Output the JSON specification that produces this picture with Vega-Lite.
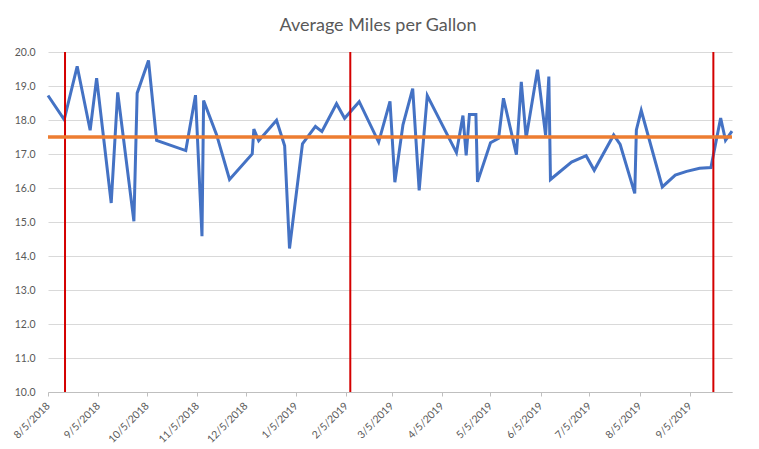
{
  "$schema": "https://vega.github.io/schema/vega-lite/v6.json",
  "width": 684,
  "height": 340,
  "autosize": {"type": "none"},
  "padding": {"left": 48, "top": 52, "right": 27, "bottom": 57},
  "background": "white",
  "config": {
    "view": {"stroke": null},
    "font": "Lato",
    "axisX": {"title": null, "format": "%-m/%-d/%Y", "labelAngle": -45, "labelAlign": "right", "labelBaseline": "middle", "labelPadding": 8, "labelFontSize": 10.5, "labelColor": "#595959", "labelOverlap": false, "labelFlush": false, "grid": false, "domainColor": "#BFBFBF", "tickColor": "#BFBFBF", "tickSize": 4},
    "axisY": {"title": null, "format": ".1f", "domain": false, "ticks": false, "gridColor": "#D9D9D9", "labelColor": "#595959", "labelFontSize": 10.5, "labelPadding": 13, "labelOverlap": false, "labelFlush": false}
  },
  "title": {"text": "Average Miles per Gallon", "font": "Lato", "fontSize": 18, "fontWeight": "normal", "color": "#595959", "anchor": "middle", "dx": -12, "offset": 12},
  "layer": [
    {
      "data": {"values": [
        {"date": "2018-08-05", "mpg": 18.72},
        {"date": "2018-08-15", "mpg": 18.01},
        {"date": "2018-08-23", "mpg": 19.58},
        {"date": "2018-08-31", "mpg": 17.70},
        {"date": "2018-09-04", "mpg": 19.23},
        {"date": "2018-09-13", "mpg": 15.56},
        {"date": "2018-09-17", "mpg": 18.81},
        {"date": "2018-09-27", "mpg": 15.02},
        {"date": "2018-09-29", "mpg": 18.79},
        {"date": "2018-10-06", "mpg": 19.75},
        {"date": "2018-10-11", "mpg": 17.40},
        {"date": "2018-10-29", "mpg": 17.10},
        {"date": "2018-11-04", "mpg": 18.73},
        {"date": "2018-11-08", "mpg": 14.58},
        {"date": "2018-11-09", "mpg": 18.57},
        {"date": "2018-11-17", "mpg": 17.57},
        {"date": "2018-11-25", "mpg": 16.25},
        {"date": "2018-12-09", "mpg": 17.00},
        {"date": "2018-12-10", "mpg": 17.73},
        {"date": "2018-12-13", "mpg": 17.39},
        {"date": "2018-12-24", "mpg": 17.99},
        {"date": "2018-12-29", "mpg": 17.24},
        {"date": "2019-01-01", "mpg": 14.22},
        {"date": "2019-01-09", "mpg": 17.30},
        {"date": "2019-01-17", "mpg": 17.81},
        {"date": "2019-01-21", "mpg": 17.66},
        {"date": "2019-01-30", "mpg": 18.48},
        {"date": "2019-02-04", "mpg": 18.05},
        {"date": "2019-02-13", "mpg": 18.54},
        {"date": "2019-02-25", "mpg": 17.35},
        {"date": "2019-03-04", "mpg": 18.55},
        {"date": "2019-03-07", "mpg": 16.17},
        {"date": "2019-03-12", "mpg": 17.86},
        {"date": "2019-03-18", "mpg": 18.92},
        {"date": "2019-03-22", "mpg": 15.93},
        {"date": "2019-03-27", "mpg": 18.72},
        {"date": "2019-04-14", "mpg": 17.04},
        {"date": "2019-04-18", "mpg": 18.13},
        {"date": "2019-04-20", "mpg": 16.96},
        {"date": "2019-04-22", "mpg": 18.16},
        {"date": "2019-04-26", "mpg": 18.16},
        {"date": "2019-04-27", "mpg": 16.18},
        {"date": "2019-05-05", "mpg": 17.33},
        {"date": "2019-05-10", "mpg": 17.46},
        {"date": "2019-05-13", "mpg": 18.64},
        {"date": "2019-05-21", "mpg": 16.98},
        {"date": "2019-05-24", "mpg": 19.12},
        {"date": "2019-05-27", "mpg": 17.47},
        {"date": "2019-06-03", "mpg": 19.48},
        {"date": "2019-06-08", "mpg": 17.55},
        {"date": "2019-06-10", "mpg": 19.28},
        {"date": "2019-06-11", "mpg": 16.25},
        {"date": "2019-06-24", "mpg": 16.76},
        {"date": "2019-07-03", "mpg": 16.95},
        {"date": "2019-07-08", "mpg": 16.52},
        {"date": "2019-07-20", "mpg": 17.56},
        {"date": "2019-07-24", "mpg": 17.28},
        {"date": "2019-08-02", "mpg": 15.84},
        {"date": "2019-08-03", "mpg": 17.71},
        {"date": "2019-08-06", "mpg": 18.28},
        {"date": "2019-08-19", "mpg": 16.03},
        {"date": "2019-08-27", "mpg": 16.38},
        {"date": "2019-09-03", "mpg": 16.49},
        {"date": "2019-09-11", "mpg": 16.58},
        {"date": "2019-09-18", "mpg": 16.60},
        {"date": "2019-09-24", "mpg": 18.06},
        {"date": "2019-09-27", "mpg": 17.40},
        {"date": "2019-10-01", "mpg": 17.67}
      ]},
      "mark": {"type": "line", "color": "#4472C4", "strokeWidth": 3},
      "encoding": {
        "x": {
          "field": "date", "type": "temporal",
          "scale": {"type": "utc", "nice": false, "domain": [{"year": 2018, "month": 8, "date": 5, "utc": true}, {"year": 2019, "month": 10, "date": 1, "utc": true}]},
          "axis": {
            "values": [
              {"year": 2018, "month": 8, "date": 5, "utc": true},
              {"year": 2018, "month": 9, "date": 5, "utc": true},
              {"year": 2018, "month": 10, "date": 5, "utc": true},
              {"year": 2018, "month": 11, "date": 5, "utc": true},
              {"year": 2018, "month": 12, "date": 5, "utc": true},
              {"year": 2019, "month": 1, "date": 5, "utc": true},
              {"year": 2019, "month": 2, "date": 5, "utc": true},
              {"year": 2019, "month": 3, "date": 5, "utc": true},
              {"year": 2019, "month": 4, "date": 5, "utc": true},
              {"year": 2019, "month": 5, "date": 5, "utc": true},
              {"year": 2019, "month": 6, "date": 5, "utc": true},
              {"year": 2019, "month": 7, "date": 5, "utc": true},
              {"year": 2019, "month": 8, "date": 5, "utc": true},
              {"year": 2019, "month": 9, "date": 5, "utc": true}
            ]
          }
        },
        "y": {
          "field": "mpg", "type": "quantitative",
          "scale": {"domain": [10, 20], "nice": false, "zero": false},
          "axis": {"values": [10, 11, 12, 13, 14, 15, 16, 17, 18, 19, 20]}
        }
      }
    },
    {
      "data": {"values": [
        {"date": "2018-08-15T12:00:00Z"},
        {"date": "2019-02-07T12:00:00Z"},
        {"date": "2019-09-19T12:00:00Z"}
      ]},
      "mark": {"type": "rule", "color": "#D40000", "strokeWidth": 2},
      "encoding": {
        "x": {
          "field": "date", "type": "temporal",
          "axis": {
            "values": [
              {"year": 2018, "month": 8, "date": 5, "utc": true},
              {"year": 2018, "month": 9, "date": 5, "utc": true},
              {"year": 2018, "month": 10, "date": 5, "utc": true},
              {"year": 2018, "month": 11, "date": 5, "utc": true},
              {"year": 2018, "month": 12, "date": 5, "utc": true},
              {"year": 2019, "month": 1, "date": 5, "utc": true},
              {"year": 2019, "month": 2, "date": 5, "utc": true},
              {"year": 2019, "month": 3, "date": 5, "utc": true},
              {"year": 2019, "month": 4, "date": 5, "utc": true},
              {"year": 2019, "month": 5, "date": 5, "utc": true},
              {"year": 2019, "month": 6, "date": 5, "utc": true},
              {"year": 2019, "month": 7, "date": 5, "utc": true},
              {"year": 2019, "month": 8, "date": 5, "utc": true},
              {"year": 2019, "month": 9, "date": 5, "utc": true}
            ]
          }
        }
      }
    },
    {
      "data": {"values": [{"target": 17.5}]},
      "mark": {"type": "rule", "color": "#ED7D31", "strokeWidth": 3.5},
      "encoding": {
        "y": {"field": "target", "type": "quantitative", "axis": {"values": [10, 11, 12, 13, 14, 15, 16, 17, 18, 19, 20]}}
      }
    }
  ]
}
